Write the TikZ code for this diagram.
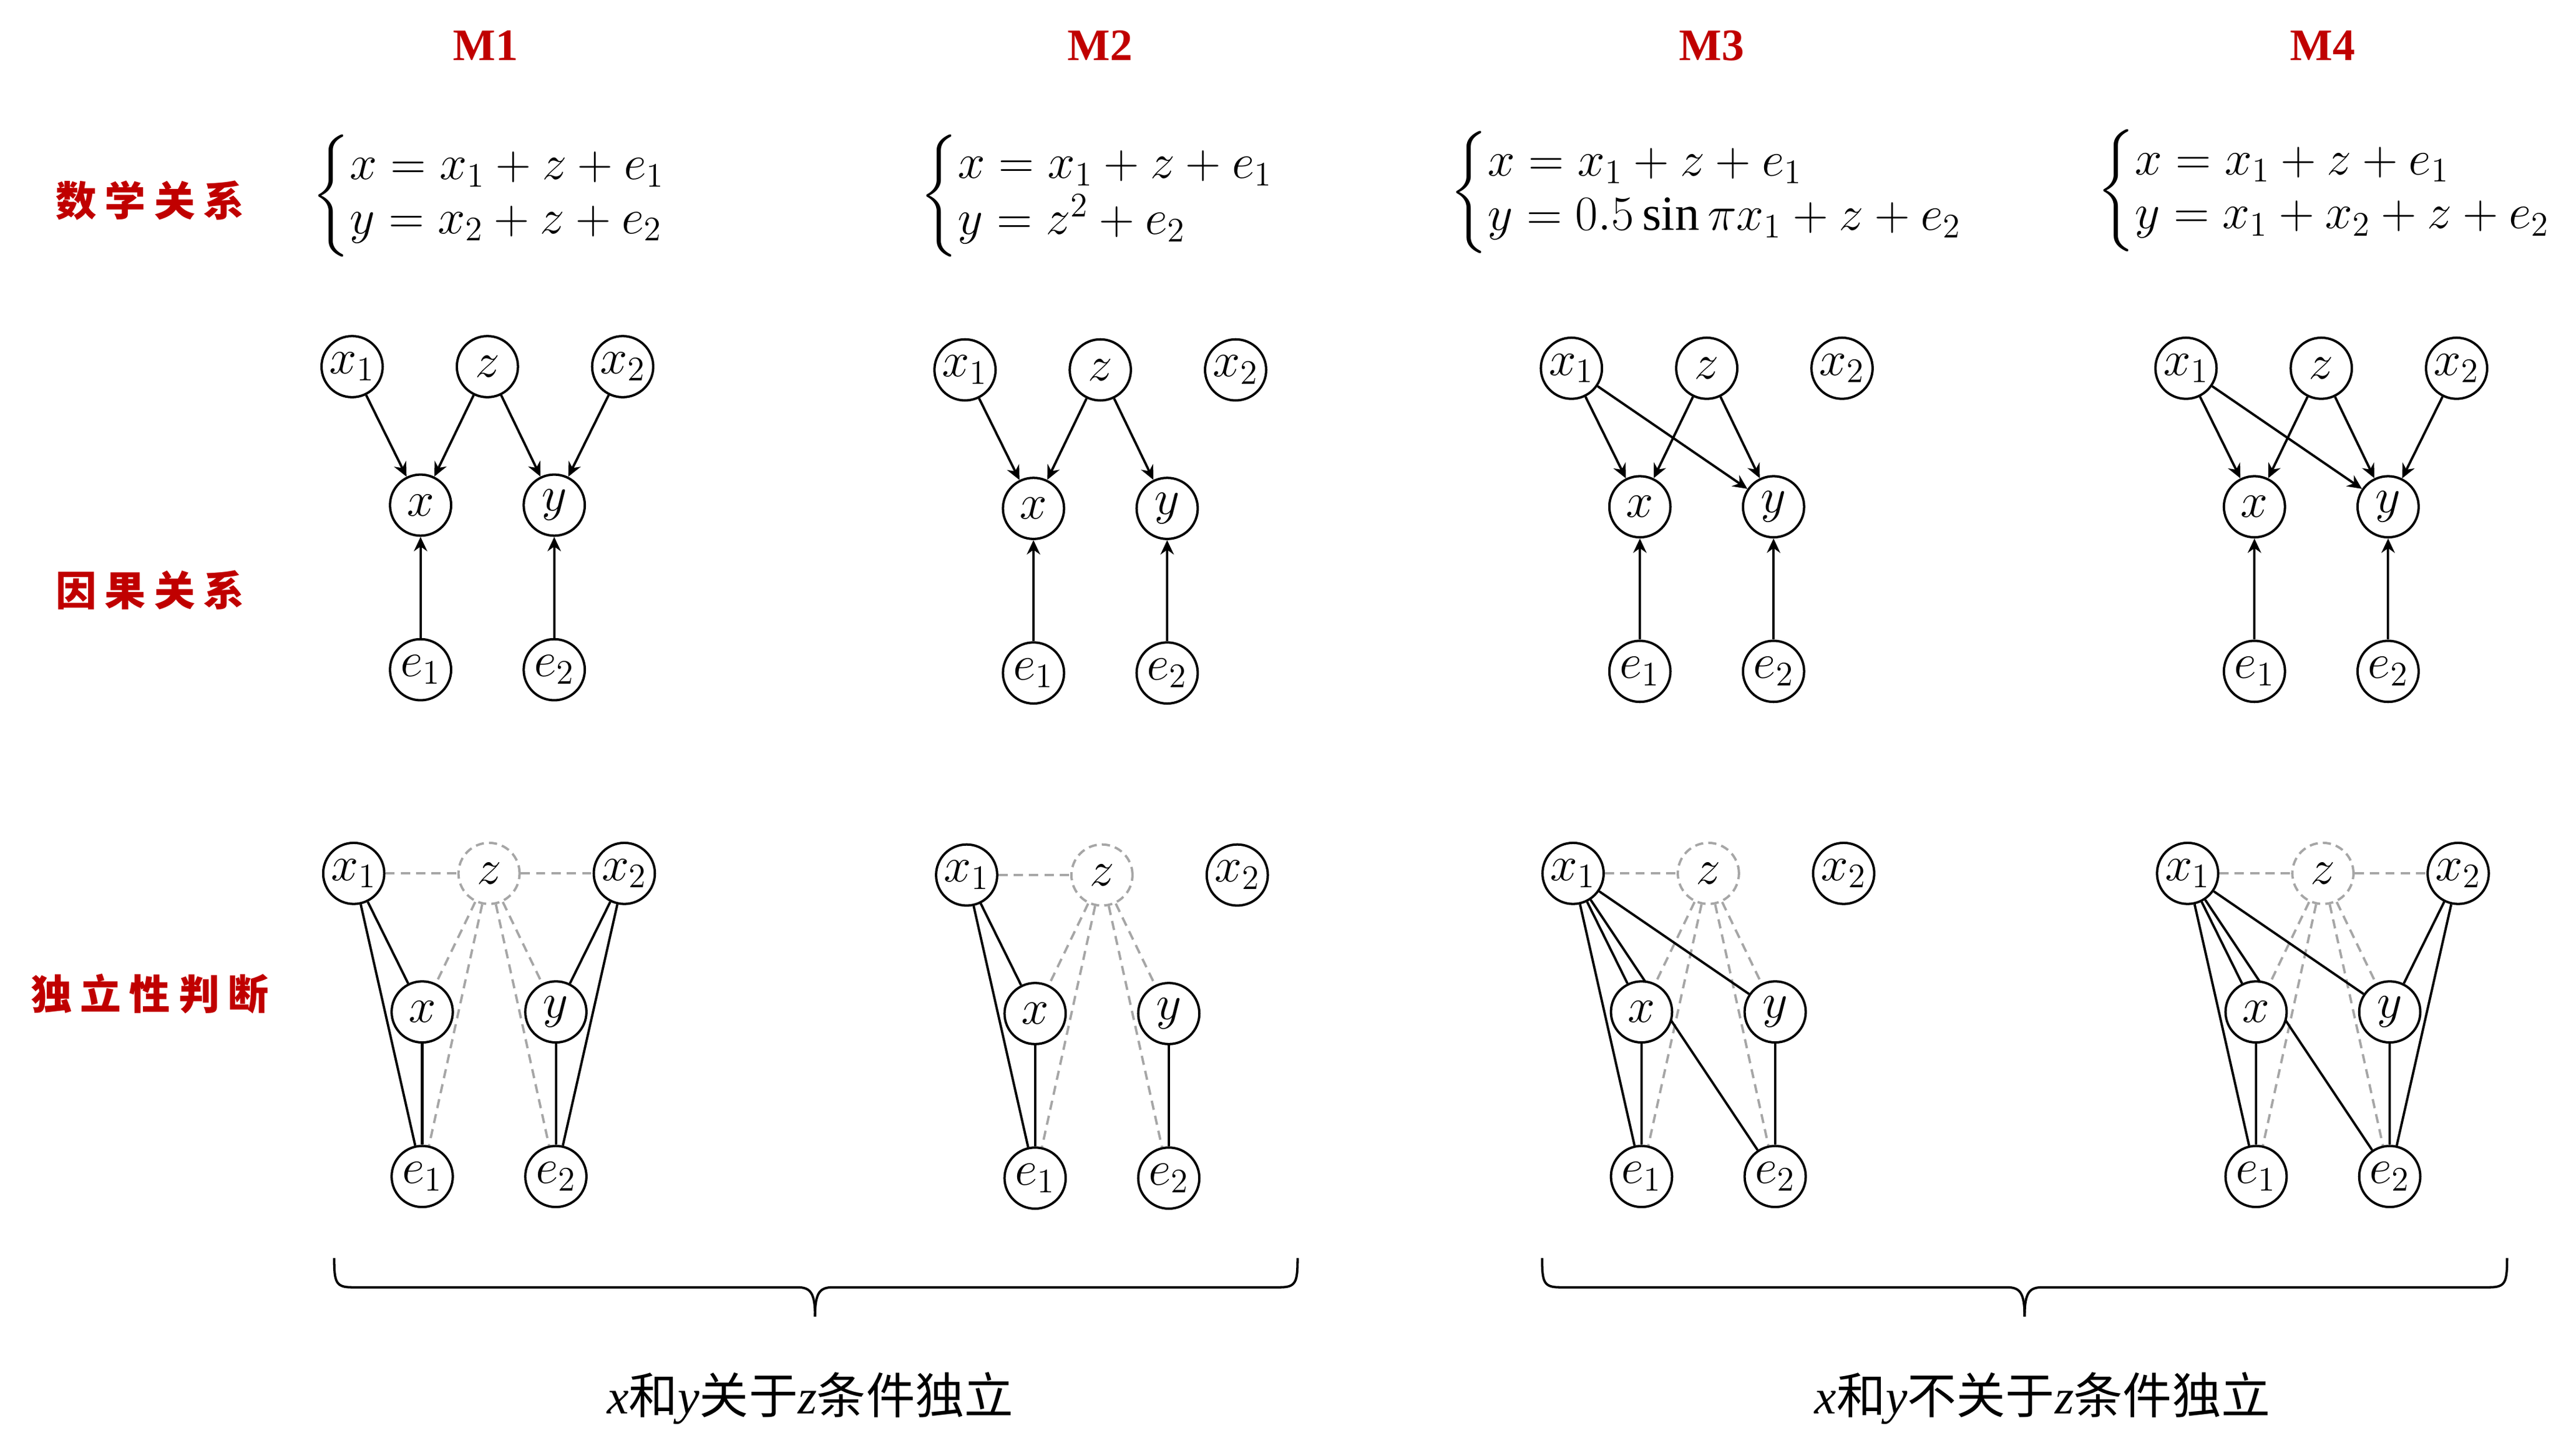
\RequirePackage{fix-cm}
\documentclass[tikz,border=0pt]{standalone}
\usepackage{amsmath}
\usepackage{fontspec}
\setmainfont{Liberation Serif}
\newfontfamily\cjk{Noto Sans CJK SC}
\usetikzlibrary{arrows.meta,backgrounds}
\definecolor{myred}{HTML}{C00000}
\definecolor{dgray}{HTML}{A6A6A6}
\newcommand\mknodes[4]{% prefix, x of x1, y of x1, z style
  \node[vn] (#1x1) at (#2,#3) {$x_1$};
  \node[#4] (#1z) at (#2+83,#3) {$z$};
  \node[vn] (#1x2) at (#2+166,#3) {$x_2$};
  \node[vn] (#1x) at (#2+42,#3+85) {$x$};
  \node[vn] (#1y) at (#2+124,#3+85) {$y$};
  \node[vn] (#1ea) at (#2+42,#3+186) {$e_1$};
  \node[vn] (#1eb) at (#2+124,#3+186) {$e_2$};
}
\begin{document}
\begin{tikzpicture}[x=0.028cm,y=-0.028cm,
  vn/.style={circle,draw,line width=1.15pt,fill=white,minimum size=1.05cm,inner sep=0pt,font=\fontsize{24}{28}\selectfont},
  zn/.style={vn,draw=dgray,dash pattern=on 4pt off 2.5pt},
  arr/.style={-{Stealth[length=7pt,width=6.5pt]},line width=1.15pt},
  sl/.style={line width=1.15pt},
  dl/.style={line width=1.15pt,draw=dgray,dash pattern=on 4.5pt off 3pt},
  ttl/.style={text=myred,font=\fontsize{22}{26}\selectfont\bfseries},
  lab/.style={text=myred,font=\cjk\bfseries\fontsize{20}{24}\selectfont},
  eqn/.style={anchor=west,inner sep=0pt,font=\fontsize{24}{22}\selectfont},
  btxt/.style={font=\fontsize{24}{28}\selectfont},
  brc/.style={line width=1.15pt,line join=round},
]
\useasboundingbox (0,0) rectangle (1568,893.5);

% titles
\node[ttl] (t1) at (298,28) {M1};
\node[ttl] (t2) at (675,28) {M2};
\node[ttl] (t3) at (1050,28) {M3};
\node[ttl] (t4) at (1425,28) {M4};

% row labels
\node[lab] (r1) at (92,123) {数\hspace{4pt}学\hspace{4pt}关\hspace{4pt}系};
\node[lab] (r2) at (92,362) {因\hspace{4pt}果\hspace{4pt}关\hspace{4pt}系};
\node[lab] (r3) at (92,610) {独\hspace{4pt}立\hspace{4pt}性\hspace{4pt}判\hspace{4pt}断};

% equations
\node[eqn] (q1) at (191,120) {$\begin{cases} x = x_1 + z + e_1\\ y = x_2 + z + e_2\end{cases}$};
\node[eqn] (q2) at (564,120) {$\begin{cases} x = x_1 + z + e_1\\ y = z^2 + e_2\end{cases}$};
\node[eqn] (q3) at (889,118) {$\begin{cases} x = x_1 + z + e_1\\ y = 0.5\sin\pi x_1 + z + e_2\end{cases}$};
\node[eqn] (q4) at (1286,117) {$\begin{cases} x = x_1 + z + e_1\\ y = x_1 + x_2 + z + e_2\end{cases}$};

% causal graphs
\mknodes{a}{216}{225}{vn}
\mknodes{b}{592}{227}{vn}
\mknodes{c}{964}{226}{vn}
\mknodes{d}{1341}{226}{vn}
% independence graphs
\mknodes{p}{217}{536}{zn}
\mknodes{q}{593}{537}{zn}
\mknodes{r}{965}{536}{zn}
\mknodes{s}{1342}{536}{zn}

\begin{pgfonlayer}{background}
% M1 causal
\draw[arr] (ax1) -- (ax); \draw[arr] (az) -- (ax); \draw[arr] (az) -- (ay); \draw[arr] (ax2) -- (ay);
\draw[arr] (aea) -- (ax); \draw[arr] (aeb) -- (ay);
% M2 causal
\draw[arr] (bx1) -- (bx); \draw[arr] (bz) -- (bx); \draw[arr] (bz) -- (by);
\draw[arr] (bea) -- (bx); \draw[arr] (beb) -- (by);
% M3 causal
\draw[arr] (cx1) -- (cx); \draw[arr] (cx1) -- (cy); \draw[arr] (cz) -- (cx); \draw[arr] (cz) -- (cy);
\draw[arr] (cea) -- (cx); \draw[arr] (ceb) -- (cy);
% M4 causal
\draw[arr] (dx1) -- (dx); \draw[arr] (dx1) -- (dy); \draw[arr] (dz) -- (dx); \draw[arr] (dz) -- (dy); \draw[arr] (dx2) -- (dy);
\draw[arr] (dea) -- (dx); \draw[arr] (deb) -- (dy);

% M1 independence
\draw[dl] (px1) -- (pz); \draw[dl] (pz) -- (px2);
\draw[dl] (pz) -- (px); \draw[dl] (pz) -- (pea); \draw[dl] (pz) -- (py); \draw[dl] (pz) -- (peb);
\draw[sl] (px1) -- (px); \draw[sl] (px1) -- (pea); \draw[sl] (px) -- (pea);
\draw[sl] (px2) -- (py); \draw[sl] (px2) -- (peb); \draw[sl] (py) -- (peb);
% M2 independence
\draw[dl] (qx1) -- (qz);
\draw[dl] (qz) -- (qx); \draw[dl] (qz) -- (qea); \draw[dl] (qz) -- (qy); \draw[dl] (qz) -- (qeb);
\draw[sl] (qx1) -- (qx); \draw[sl] (qx1) -- (qea); \draw[sl] (qx) -- (qea); \draw[sl] (qy) -- (qeb);
% M3 independence
\draw[dl] (rx1) -- (rz);
\draw[dl] (rz) -- (rx); \draw[dl] (rz) -- (rea); \draw[dl] (rz) -- (ry); \draw[dl] (rz) -- (reb);
\draw[sl] (rx1) -- (rx); \draw[sl] (rx1) -- (rea); \draw[sl] (rx1) -- (reb); \draw[sl] (rx1) -- (ry);
\draw[sl] (rx) -- (rea); \draw[sl] (ry) -- (reb);
% M4 independence
\draw[dl] (sx1) -- (sz); \draw[dl] (sz) -- (sx2);
\draw[dl] (sz) -- (sx); \draw[dl] (sz) -- (sea); \draw[dl] (sz) -- (sy); \draw[dl] (sz) -- (seb);
\draw[sl] (sx1) -- (sx); \draw[sl] (sx1) -- (sea); \draw[sl] (sx1) -- (seb); \draw[sl] (sx1) -- (sy);
\draw[sl] (sx) -- (sea); \draw[sl] (sx2) -- (sy); \draw[sl] (sx2) -- (seb); \draw[sl] (sy) -- (seb);
\end{pgfonlayer}

% braces
\draw[brc] (205,772) .. controls (205,787) and (206,790) .. (216,790) -- (489,790) .. controls (497,790) and (500,793) .. (500,808);
\draw[brc] (500,808) .. controls (500,793) and (503,790) .. (511,790) -- (785,790) .. controls (795,790) and (796,787) .. (796,772);
\draw[brc] (946,772) .. controls (946,787) and (947,790) .. (957,790) -- (1231,790) .. controls (1239,790) and (1242,793) .. (1242,808);
\draw[brc] (1242,808) .. controls (1242,793) and (1245,790) .. (1253,790) -- (1527,790) .. controls (1537,790) and (1538,787) .. (1538,772);

% bottom texts
\node[btxt] (b1) at (497,858) {{\itshape x}{\cjk 和}{\itshape y}{\cjk 关于}{\itshape z}{\cjk 条件独立}};
\node[btxt] (b2) at (1253,858) {{\itshape x}{\cjk 和}{\itshape y}{\cjk 不关于}{\itshape z}{\cjk 条件独立}};
\end{tikzpicture}
\end{document}
